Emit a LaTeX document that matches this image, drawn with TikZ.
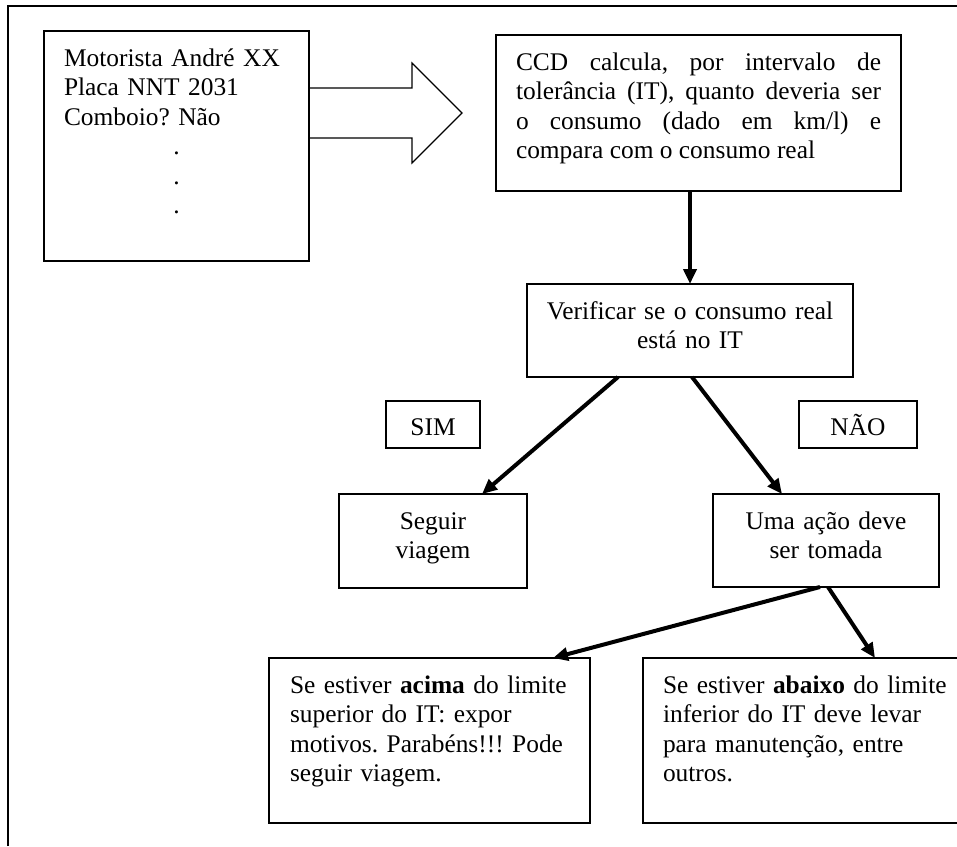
\documentclass[tikz,border=0pt]{standalone}
\usepackage{fontspec}
\setmainfont{Liberation Serif}
\usetikzlibrary{arrows.meta}
\hyphenpenalty=10000
\tolerance=9999
\frenchspacing

\tikzset{
	caixa/.style={draw, line width=1.2pt, anchor=north west, outer sep=0pt,
		inner xsep=20pt, inner ysep=15pt, text height=20pt,
		font=\fontsize{25.4}{29.5}\selectfont},
	rotulo/.style={draw, line width=1.2pt, minimum height=47pt, inner sep=0pt,
		text height=21pt, text depth=0pt,
		font=\fontsize{25.4}{29.5}\selectfont},
	seta/.style={line width=4pt, -{Triangle[length=15pt,width=13pt]}},
}

\begin{document}
\begin{tikzpicture}[x=1pt, y=-1pt]
	\useasboundingbox (0,0) rectangle (957,846);

	% --- frame (cut by the page on the right and at the bottom)
	\draw[line width=2.4pt] (8,846) -- (8,6) -- (957,6);

	% --- draw the boxes
	\node[caixa, text width=225pt, text depth=180pt, align=left] (motorista) at (44,31)
		{Motorista André XX\\Placa NNT 2031\\Comboio? Não\\
		\makebox[\linewidth]{.}\\\makebox[\linewidth]{.}\\\makebox[\linewidth]{.}};
	\node[caixa, text width=365pt, text depth=106pt, align=justify] (ccd) at (496,35)
		{CCD calcula, por intervalo de\linebreak tolerância (IT), quanto deveria ser\linebreak o consumo (dado em km/l) e\linebreak compara com o consumo real};
	\node[caixa, inner xsep=10pt, text width=306pt, text depth=43pt, align=center] (verificar) at (527,284)
		{Verificar se o consumo real\\está no IT};
	\node[caixa, inner xsep=10pt, text width=168pt, text depth=44pt, align=center] (seguir) at (339,494)
		{Seguir\\viagem};
	\node[caixa, inner xsep=10pt, text width=206pt, text depth=43pt, align=center] (acao) at (713,494)
		{Uma ação deve\\ser tomada};
	\node[caixa, inner xsep=21pt, text width=279pt, text depth=115pt, align=left] (acima) at (269,658)
		{Se estiver \textbf{acima} do limite\\superior do IT: expor\\motivos. Parabéns!!! Pode\\seguir viagem.};
	\node[caixa, text width=300pt, text depth=115pt, align=left] (abaixo) at (643,658)
		{Se estiver \textbf{abaixo} do limite\\inferior do IT deve levar\\para manutenção, entre\\outros.};

	% --- SIM / NAO labels
	\foreach \nome/\x/\largura/\label in {sim/433/94pt/SIM, nao/858/118pt/NÃO}
		\node[rotulo, minimum width=\largura] (\nome) at (\x,424.5) {\label};

	% --- hollow arrow from the first box
	\draw[line width=1.2pt] (309,88) -- (412,88) -- (412,63) -- (462,113)
		-- (412,163) -- (412,138) -- (309,138);

	% --- draw arrows
	\draw[seta] (verificar.north |- ccd.south) -- (verificar.north);
	\draw[seta] ([xshift=-72pt]verificar.south) -- ([xshift=49pt]seguir.north);
	\draw[seta] ([xshift=2pt]verificar.south) -- ([xshift=-44pt]acao.north);
	\draw[seta] ([xshift=-6pt]acao.south) -- ([xshift=123.5pt]acima.north);
	\draw[seta] ([xshift=2pt]acao.south) -- ([xshift=62pt]abaixo.north);
\end{tikzpicture}
\end{document}
